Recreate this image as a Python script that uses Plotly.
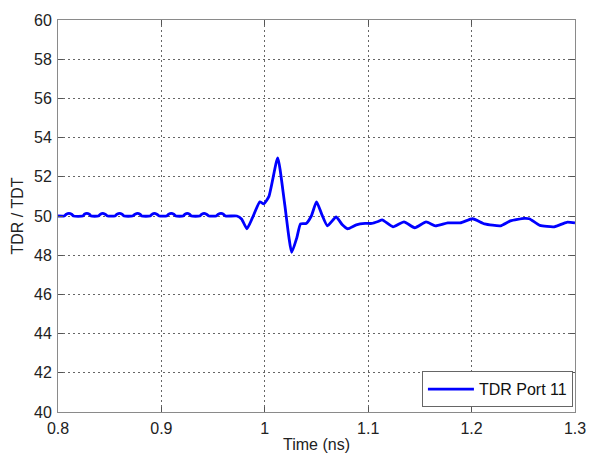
import plotly.graph_objects as go

# Time (ns) and TDR values
time_ns = [
    0.800, 0.806, 0.808, 0.8106, 0.8132, 0.815,
    0.824, 0.8255, 0.8279, 0.8303, 0.832,
    0.839, 0.841, 0.8433, 0.8456, 0.848,
    0.855, 0.857, 0.8596, 0.862, 0.864,
    0.872, 0.8745, 0.8769, 0.8793, 0.881,
    0.889, 0.891, 0.8933, 0.8956, 0.898,
    0.905, 0.907, 0.9096, 0.912, 0.914,
    0.921, 0.9228, 0.9250, 0.9272, 0.929,
    0.937, 0.939, 0.9413, 0.9436, 0.946,
    0.953, 0.955, 0.9577, 0.960, 0.962,
    0.973, 0.9775, 0.9827, 0.988, 0.9952, 0.999, 1.004, 1.0125, 1.019,
    1.026, 1.031, 1.0346, 1.040, 1.045, 1.050, 1.055, 1.0606, 1.069, 1.075,
    1.080, 1.0885, 1.097, 1.1035, 1.1096, 1.1135, 1.124, 1.1346, 1.145, 1.156,
    1.165, 1.177, 1.189, 1.201, 1.2125, 1.228, 1.2375, 1.251, 1.2558, 1.266,
    1.280, 1.292, 1.300,
]
tdr_port11 = [
    50.00, 50.00, 50.09, 50.13, 50.09, 50.00,
    50.00, 50.09, 50.13, 50.09, 50.00,
    50.00, 50.09, 50.13, 50.09, 50.00,
    50.00, 50.09, 50.13, 50.09, 50.00,
    50.00, 50.09, 50.13, 50.09, 50.00,
    50.00, 50.09, 50.13, 50.09, 50.00,
    50.00, 50.09, 50.13, 50.09, 50.00,
    50.00, 50.09, 50.13, 50.09, 50.00,
    50.00, 50.09, 50.13, 50.09, 50.00,
    50.00, 50.09, 50.13, 50.09, 50.00,
    50.00, 49.85, 49.35, 49.90, 50.72, 50.62, 51.00, 52.97, 50.70,
    48.15, 48.90, 49.60, 49.62, 50.00, 50.72, 50.10, 49.50, 49.95, 49.55,
    49.35, 49.55, 49.62, 49.62, 49.72, 49.80, 49.45, 49.70, 49.40, 49.70,
    49.50, 49.65, 49.65, 49.86, 49.60, 49.50, 49.75, 49.88, 49.86, 49.52,
    49.45, 49.68, 49.65,
]

x_ticks = [0.8, 0.9, 1.0, 1.1, 1.2, 1.3]
x_tick_labels = ["0.8", "0.9", "1", "1.1", "1.2", "1.3"]
y_ticks = [40, 42, 44, 46, 48, 50, 52, 54, 56, 58, 60]

fig = go.Figure()
fig.add_trace(go.Scatter(
    x=time_ns, y=tdr_port11, mode="lines", name="TDR Port 11",
    line=dict(color="#0000FF", width=2.8, shape="spline", smoothing=0.5),
))

font_family = "Liberation Sans, Arial, sans-serif"
axis_common = dict(
    showline=True, mirror="ticks", linecolor="#8a8a8a", linewidth=1,
    ticks="inside", ticklen=5, tickcolor="#555",
    showgrid=True, gridcolor="#666", gridwidth=1, griddash="2px,3px",
    zeroline=False, automargin=False, ticklabelstandoff=2,
    tickfont=dict(family=font_family, size=16, color="#222"),
)

fig.update_layout(
    width=591, height=454,
    margin=dict(l=58, r=16, t=20, b=42),
    paper_bgcolor="white", plot_bgcolor="white",
    font=dict(family=font_family, color="#222"),
    xaxis=dict(range=[0.8, 1.3], tickvals=x_ticks, ticktext=x_tick_labels,
               title=dict(text="Time (ns)", font=dict(size=16), standoff=2),
               **axis_common),
    yaxis=dict(range=[40, 60], tickvals=y_ticks,
               title=dict(text="TDR / TDT", font=dict(size=16), standoff=6),
               **axis_common),
    showlegend=True,
    legend=dict(x=0.996, y=0.012, xanchor="right", yanchor="bottom",
                bgcolor="white", bordercolor="#666", borderwidth=1,
                itemwidth=46,
                font=dict(family=font_family, size=16, color="#111")),
)

fig.write_html("out.html")
